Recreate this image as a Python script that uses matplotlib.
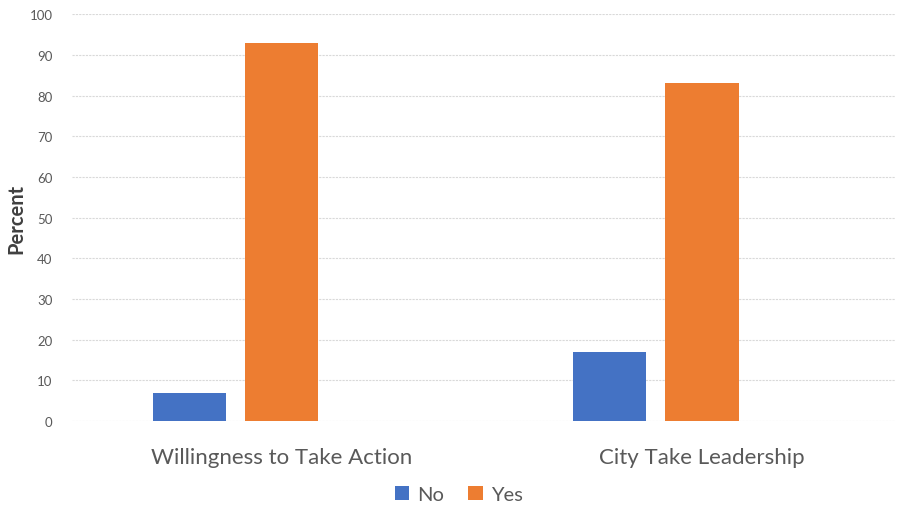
import numpy as np
import matplotlib.pyplot as plt

# data
categories = ['Willingness to Take Action', 'City Take Leadership']
no_vals = [7, 17]
yes_vals = [93, 83]
yticks = np.arange(0, 101, 10)

plt.rcParams['font.family'] = ['Lato', 'DejaVu Sans']

fig = plt.figure(figsize=(8.98, 5.06), dpi=100)
ax = fig.add_axes([0.080, 0.166, 0.917, 0.804])

x = np.arange(len(categories))
w = 0.174
ax.bar(x - 0.22, no_vals, w, color='#4472C4', label='No', zorder=3)
ax.bar(x, yes_vals, w, color='#ED7D31', label='Yes', zorder=3)

ax.set_xlim(-0.5, 1.46)
ax.set_ylim(0, 100)
ax.set_yticks(yticks)
ax.set_xticks(x)
ax.set_xticklabels(categories, fontsize=16, color='#595959')
ax.tick_params(axis='y', labelsize=9.5, colors='#595959', length=0, pad=14)
ax.tick_params(axis='x', length=0, pad=19)
ax.grid(axis='y', color='#D9D9D9', linestyle=(0, (2, 1)), linewidth=0.8, zorder=0)
for s in ax.spines.values():
    s.set_visible(False)
ax.set_ylabel('Percent', fontsize=14.5, fontweight='bold', color='#404040', labelpad=2)

ax.legend(loc='upper center', bbox_to_anchor=(0.47, -0.115), ncol=2, frameon=False,
          fontsize=14.5, labelcolor='#595959', handlelength=0.7, handleheight=0.7,
          handletextpad=0.4, columnspacing=1.2)

fig.savefig('out.png', dpi=100)
